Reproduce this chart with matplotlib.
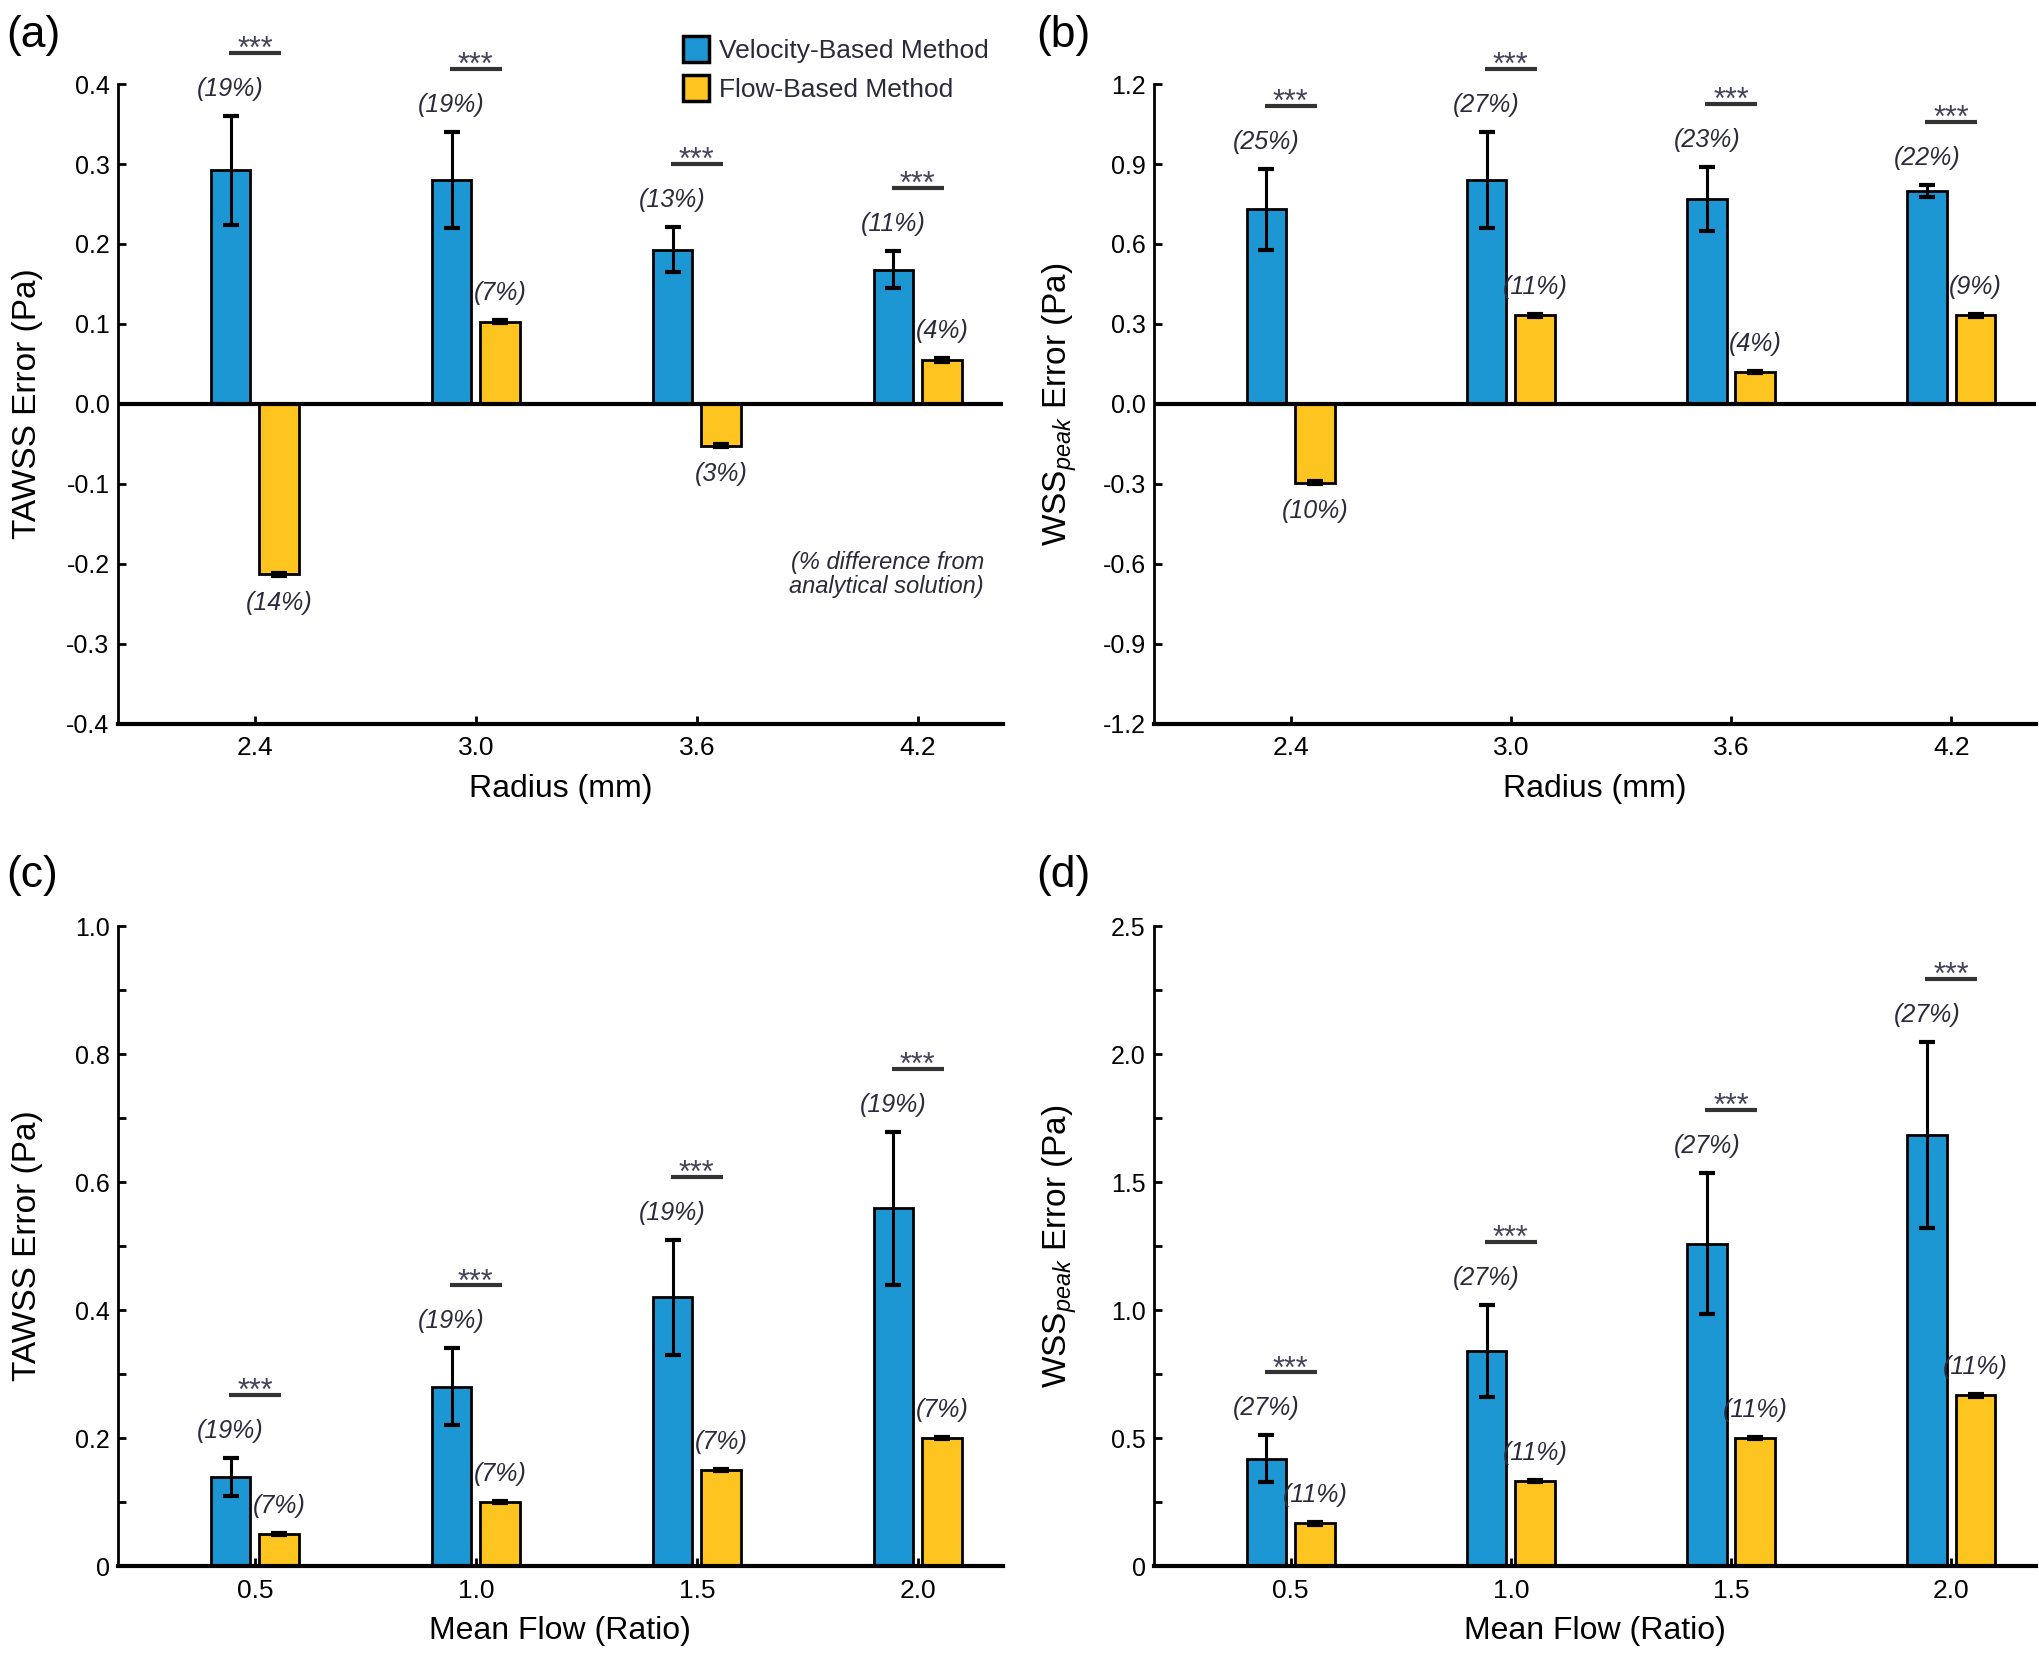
import numpy as np
import matplotlib
matplotlib.use('Agg')
import matplotlib.pyplot as plt
from matplotlib.ticker import FixedLocator
from matplotlib.patches import Patch

plt.rcParams['font.family'] = ['Liberation Sans', 'DejaVu Sans']
plt.rcParams['mathtext.fontset'] = 'custom'
plt.rcParams['mathtext.rm'] = 'Liberation Sans'
plt.rcParams['mathtext.it'] = 'Liberation Sans:italic'

NARROW = ['Liberation Sans Narrow', 'Liberation Sans', 'DejaVu Sans']
BLUE = '#1d97d4'
YELLOW = '#fec521'
TXT = '#2a2a3a'

radius = ['2.4', '3.0', '3.6', '4.2']
flow_ratio = ['0.5', '1.0', '1.5', '2.0']

# (a) TAWSS error vs radius
tawss_r_vel = [0.292, 0.280, 0.193, 0.168]
tawss_r_vel_err = [0.068, 0.060, 0.028, 0.023]
tawss_r_flow = [-0.213, 0.103, -0.052, 0.055]
tawss_r_flow_err = [0.002, 0.002, 0.002, 0.002]
tawss_r_vel_pct = ['(19%)', '(19%)', '(13%)', '(11%)']
tawss_r_flow_pct = ['(14%)', '(7%)', '(3%)', '(4%)']

# (b) WSS peak error vs radius
wss_r_vel = [0.73, 0.84, 0.77, 0.80]
wss_r_vel_err = [0.153, 0.18, 0.12, 0.022]
wss_r_flow = [-0.295, 0.333, 0.12, 0.333]
wss_r_flow_err = [0.005, 0.005, 0.005, 0.005]
wss_r_vel_pct = ['(25%)', '(27%)', '(23%)', '(22%)']
wss_r_flow_pct = ['(10%)', '(11%)', '(4%)', '(9%)']

# (c) TAWSS error vs mean flow
tawss_f_vel = [0.139, 0.280, 0.420, 0.559]
tawss_f_vel_err = [0.030, 0.060, 0.090, 0.120]
tawss_f_flow = [0.050, 0.100, 0.150, 0.200]
tawss_f_flow_err = [0.002, 0.002, 0.002, 0.002]
tawss_f_vel_pct = ['(19%)', '(19%)', '(19%)', '(19%)']
tawss_f_flow_pct = ['(7%)', '(7%)', '(7%)', '(7%)']

# (d) WSS peak error vs mean flow
wss_f_vel = [0.42, 0.84, 1.26, 1.684]
wss_f_vel_err = [0.09, 0.18, 0.275, 0.365]
wss_f_flow = [0.167, 0.333, 0.500, 0.667]
wss_f_flow_err = [0.005, 0.005, 0.005, 0.005]
wss_f_vel_pct = ['(27%)', '(27%)', '(27%)', '(27%)']
wss_f_flow_pct = ['(11%)', '(11%)', '(11%)', '(11%)']

PX = 0.72  # points per pixel at dpi 100
W = 0.18
OFF = 0.11


def draw_panel(ax, cats, vel, vel_err, flow, flow_err, vel_pct, flow_pct,
               ylim, major, major_labels, minor, xlabel, ylabel):
    x = np.arange(len(cats))
    ax.bar(x - OFF, vel, W, color=BLUE, edgecolor='black', linewidth=2, zorder=2)
    ax.bar(x + OFF, flow, W, color=YELLOW, edgecolor='black', linewidth=2, zorder=2)
    ax.errorbar(x - OFF, vel, yerr=vel_err, fmt='none', ecolor='black',
                elinewidth=2.2, capsize=5.5, capthick=3, zorder=3)
    ax.errorbar(x + OFF, flow, yerr=flow_err, fmt='none', ecolor='black',
                elinewidth=2.2, capsize=5.5, capthick=3, zorder=3)

    ax.set_xlim(-0.62, 3.385)
    ax.set_ylim(*ylim)
    if ylim[0] < 0:
        ax.axhline(0, color='black', lw=3, zorder=4)
    scale = (ylim[1] - ylim[0]) / 640.0

    for i in range(len(cats)):
        top = vel[i] + vel_err[i]
        ax.annotate(vel_pct[i], (x[i] - OFF, top), xytext=(0, 27 * PX),
                    textcoords='offset points', ha='center', va='center',
                    fontsize=18, fontstyle='italic', family=NARROW, color=TXT)
        if flow[i] >= 0:
            ax.annotate(flow_pct[i], (x[i] + OFF, flow[i] + flow_err[i]),
                        xytext=(0, 27 * PX), textcoords='offset points',
                        ha='center', va='center', fontsize=18,
                        fontstyle='italic', family=NARROW, color=TXT)
        else:
            ax.annotate(flow_pct[i], (x[i] + OFF, flow[i] - flow_err[i]),
                        xytext=(0, -27 * PX), textcoords='offset points',
                        ha='center', va='center', fontsize=18,
                        fontstyle='italic', family=NARROW, color=TXT)
        # significance bar
        ly = top + 63 * scale
        ax.plot([x[i] - 0.118, x[i] + 0.118], [ly, ly], color='#333333',
                lw=3, solid_capstyle='butt', clip_on=False, zorder=5)
        ax.annotate('***', (x[i], ly), xytext=(0, -5 * PX),
                    textcoords='offset points', ha='center', va='baseline',
                    fontsize=22, color='#444458', annotation_clip=False)

    ax.set_xticks(x)
    ax.set_xticklabels(cats)
    ax.yaxis.set_major_locator(FixedLocator(major))
    ax.set_yticklabels(major_labels)
    if minor is not None:
        ax.yaxis.set_minor_locator(FixedLocator(minor))
    ax.tick_params(axis='both', which='both', direction='in', length=6,
                   width=2, labelsize=18, colors='black', pad=6)
    ax.tick_params(axis='x', pad=9, labelsize=19)
    for s in ['top', 'right']:
        ax.spines[s].set_visible(False)
    ax.spines['left'].set_linewidth(2)
    ax.spines['bottom'].set_linewidth(3)

    ax.set_xlabel(xlabel, fontsize=23)
    ax.set_ylabel(ylabel, fontsize=24)
    ax.xaxis.set_label_coords(0.5, -0.078)
    ax.yaxis.set_label_coords(-0.085, 0.5)


fig = plt.figure(figsize=(20.4, 16.57), dpi=100)
ax_a = fig.add_axes([0.0578, 0.5631, 0.4338, 0.3862])
ax_b = fig.add_axes([0.5657, 0.5631, 0.4324, 0.3862])
ax_c = fig.add_axes([0.0578, 0.0549, 0.4338, 0.3862])
ax_d = fig.add_axes([0.5657, 0.0549, 0.4324, 0.3862])

ya = [-0.4, -0.3, -0.2, -0.1, 0.0, 0.1, 0.2, 0.3, 0.4]
draw_panel(ax_a, radius, tawss_r_vel, tawss_r_vel_err, tawss_r_flow,
           tawss_r_flow_err, tawss_r_vel_pct, tawss_r_flow_pct,
           (-0.4, 0.4), ya, [f'{v:.1f}' for v in ya], None,
           'Radius (mm)', 'TAWSS Error (Pa)')

yb = [-1.2, -0.9, -0.6, -0.3, 0.0, 0.3, 0.6, 0.9, 1.2]
draw_panel(ax_b, radius, wss_r_vel, wss_r_vel_err, wss_r_flow,
           wss_r_flow_err, wss_r_vel_pct, wss_r_flow_pct,
           (-1.2, 1.2), yb, [f'{v:.1f}' for v in yb], None,
           'Radius (mm)', 'WSS$_{peak}$ Error (Pa)')

yc = [0.0, 0.2, 0.4, 0.6, 0.8, 1.0]
draw_panel(ax_c, flow_ratio, tawss_f_vel, tawss_f_vel_err, tawss_f_flow,
           tawss_f_flow_err, tawss_f_vel_pct, tawss_f_flow_pct,
           (0, 1.0), yc, ['0'] + [f'{v:.1f}' for v in yc[1:]],
           [0.1, 0.3, 0.5, 0.7, 0.9],
           'Mean Flow (Ratio)', 'TAWSS Error (Pa)')

yd = [0.0, 0.5, 1.0, 1.5, 2.0, 2.5]
draw_panel(ax_d, flow_ratio, wss_f_vel, wss_f_vel_err, wss_f_flow,
           wss_f_flow_err, wss_f_vel_pct, wss_f_flow_pct,
           (0, 2.5), yd, ['0'] + [f'{v:.1f}' for v in yd[1:]],
           [0.25, 0.75, 1.25, 1.75, 2.25],
           'Mean Flow (Ratio)', 'WSS$_{peak}$ Error (Pa)')

# legend and note in panel (a)
handles = [Patch(facecolor=BLUE, edgecolor='black', linewidth=2.5),
           Patch(facecolor=YELLOW, edgecolor='black', linewidth=2.5)]
ax_a.legend(handles, ['Velocity-Based Method', 'Flow-Based Method'],
            loc='upper left', bbox_to_anchor=(0.638, 1.075), frameon=False,
            borderpad=0, borderaxespad=0, handlelength=1.0, handleheight=1.15,
            handletextpad=0.4, labelspacing=0.45,
            prop={'family': NARROW, 'size': 19}, labelcolor=TXT)
ax_a.text(0.9785, 0.233, '(% difference from\nanalytical solution)',
          transform=ax_a.transAxes, ha='right', va='center',
          multialignment='right', fontsize=17, fontstyle='italic',
          family=NARROW, color=TXT, linespacing=1.05)

for lab, xx, yy in [('(a)', 6, 36), ('(b)', 1036, 36),
                    ('(c)', 6, 876), ('(d)', 1036, 876)]:
    fig.text(xx / 2040, 1 - yy / 1657, lab, fontsize=32, ha='left', va='center')

fig.savefig('out.png', dpi=100)
